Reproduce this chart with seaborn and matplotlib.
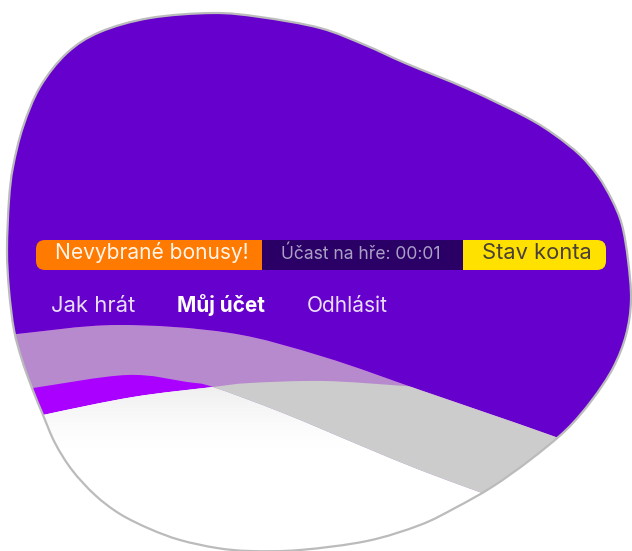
import numpy as np
import matplotlib.pyplot as plt
import seaborn as sns
from matplotlib.path import Path
from matplotlib.patches import PathPatch, FancyBboxPatch, Rectangle

sns.set_theme(style="white")
plt.rcParams['font.family'] = ['Inter', 'DejaVu Sans']

# blob outline, clockwise from the top (pixel coords, y grows downwards)
blob_x = [213, 260, 320, 365, 405, 468, 526, 555, 580, 598, 612, 622, 628, 631,
          626, 613, 592, 566, 530, 492, 455, 420, 367, 300, 250, 217, 180, 150,
          120, 95, 72, 55, 43, 32, 22, 14, 9, 7, 9, 13, 23, 40, 67, 100, 150]
blob_y = [13, 17, 28, 45, 63, 89, 117, 135, 155, 176, 200, 225, 260, 300,
          335, 368, 400, 430, 460, 487, 508, 525, 541, 550, 551, 548, 540, 529,
          514, 495, 470, 443, 415, 388, 360, 330, 290, 250, 200, 167, 127, 87,
          53, 32, 18]

# upper edge of the pale band
band_top_x = [-20, 17, 117, 230, 324, 420, 487, 553, 660]
band_top_y = [338, 334, 325, 333, 357, 390, 413, 436, 475]
# lower edge of the pale band
band_bot_x = [-20, 33, 127, 187, 213, 283, 364, 420, 482, 560, 660]
band_bot_y = [396, 388, 375, 382, 387, 413, 447, 470, 493, 522, 560]
# upper edge of the white area, seen through the band as grey
white_x = [-20, 43, 133, 213, 250, 324, 405, 460, 660]
white_y = [430, 415, 397, 387, 383, 381, 386, 390, 400]
# upper edge of the opaque white fill (hidden inside the band on the right)
fill_x = [-20, 43, 133, 213, 250, 324, 405, 460, 560, 660]
fill_y = [430, 415, 397, 387, 383, 381, 390, 422, 470, 520]

button_labels = ["Nevybrané bonusy!", "Účast na hře: 00:01", "Stav konta"]
button_left = [36, 262, 463]
button_right = [262, 463, 606]
button_text_x = [55, 281, 482]
button_text_w = [194, 160, 110]
button_colors = ["#ff7a00", "#2b0066", "#ffe100"]
button_text_colors = ["#fff4ea", "#a9a0c6", "#4a4038"]

nav_labels = ["Jak hrát", "Můj účet", "Odhlásit"]
nav_x = [51, 177, 307]
nav_w = [84, 88, 81]
nav_weights = ["normal", "bold", "normal"]
nav_colors = ["#e9ddf7", "#ffffff", "#e9ddf7"]

PURPLE = "#6600cc"
PALE = "#b78acd"
VIOLET = "#aa00ff"
GREY = "#cccccc"
EDGE = "#bbbbbb"


def bezier_verts(xs, ys, closed=False):
    """Catmull-Rom anchors turned into cubic bezier vertices."""
    p = np.column_stack([xs, ys]).astype(float)
    n = len(p)
    if closed:
        pts = np.vstack([p[-1], p, p[0], p[1]])
        segs = n
    else:
        pts = np.vstack([p[0], p, p[-1]])
        segs = n - 1
    verts = [pts[1]]
    for i in range(1, segs + 1):
        p0, p1, p2, p3 = pts[i - 1], pts[i], pts[i + 1], pts[i + 2]
        verts += [p1 + (p2 - p0) / 6, p2 - (p3 - p1) / 6, p2]
    return verts


def curve_codes(verts):
    return [Path.MOVETO] + [Path.CURVE4] * (len(verts) - 1)


def below_path(xs, ys, bottom=620):
    v = bezier_verts(xs, ys)
    codes = curve_codes(v)
    v = v + [(xs[-1], bottom), (xs[0], bottom), v[0]]
    codes = codes + [Path.LINETO, Path.LINETO, Path.CLOSEPOLY]
    return Path(v, codes)


def between_path(x1, y1, x2, y2):
    a = bezier_verts(x1, y1)
    b = bezier_verts(x2[::-1], y2[::-1])
    codes = curve_codes(a) + [Path.LINETO] + [Path.CURVE4] * (len(b) - 1) + [Path.CLOSEPOLY]
    return Path(a + b + [a[0]], codes)


fig = plt.figure(figsize=(6.32, 5.51), dpi=100)
ax = fig.add_axes([0, 0, 1, 1])
ax.set_xlim(0, 632)
ax.set_ylim(551, 0)
ax.axis("off")

blob_v = bezier_verts(blob_x, blob_y, closed=True)
blob_path = Path(blob_v + [blob_v[0]], curve_codes(blob_v) + [Path.CLOSEPOLY])

ax.add_patch(PathPatch(blob_path, fc=PURPLE, ec="none"))
ax.add_patch(PathPatch(below_path(band_top_x, band_top_y), fc=VIOLET, ec="none"))
fill_patch = PathPatch(below_path(fill_x, fill_y), fc="white", ec="none")
ax.add_patch(fill_patch)

# soft shadow under the band on the white area
grad = np.linspace(1, 0, 100).reshape(-1, 1) ** 1.6
shade = ax.imshow(grad, extent=(0, 632, 455, 378), cmap="Greys", vmin=0, vmax=6,
                  aspect="auto", interpolation="bilinear", zorder=2)
shade.set_clip_path(fill_patch)

band = between_path(band_top_x, band_top_y, band_bot_x, band_bot_y)
ax.add_patch(PathPatch(band, fc=PALE, ec="none", zorder=3))
clip_patch = PathPatch(below_path(white_x, white_y), fc="none", ec="none")
ax.add_patch(clip_patch)
grey_patch = PathPatch(band, fc=GREY, ec="none", zorder=4)
ax.add_patch(grey_patch)
grey_patch.set_clip_path(clip_patch)

# white mask outside the blob, then the outline
area = np.sum(np.array(blob_x) * np.roll(blob_y, -1) - np.roll(blob_x, -1) * np.array(blob_y))
rect = [(-10, -10), (642, -10), (642, 561), (-10, 561)]
if area > 0:
    rect = rect[::-1]
bv = [tuple(v) for v in blob_v]
mask = Path(rect + [rect[0]] + bv + [bv[0]],
            [Path.MOVETO] + [Path.LINETO] * 3 + [Path.CLOSEPOLY]
            + curve_codes(blob_v) + [Path.CLOSEPOLY])
ax.add_patch(PathPatch(mask, fc="white", ec="none", zorder=5))
ax.add_patch(PathPatch(blob_path, fc="none", ec=EDGE, lw=1.6, zorder=6))

# status bar
ax.add_patch(FancyBboxPatch((button_left[0], 240), button_right[0] - button_left[0] + 20, 30,
                            boxstyle="round,pad=0,rounding_size=9", fc=button_colors[0],
                            ec="none", zorder=7))
ax.add_patch(FancyBboxPatch((button_left[2] - 20, 240), button_right[2] - button_left[2] + 20, 30,
                            boxstyle="round,pad=0,rounding_size=9", fc=button_colors[2],
                            ec="none", zorder=7))
ax.add_patch(Rectangle((button_left[1], 240), button_right[1] - button_left[1], 30,
                       fc=button_colors[1], ec="none", zorder=8))

fig.canvas.draw()
renderer = fig.canvas.get_renderer()


def fit_text(x, y, s, width, **kw):
    t = ax.text(x, y, s, va="baseline", ha="left", zorder=9, **kw)
    fs = t.get_fontsize()
    w = t.get_window_extent(renderer).width
    t.set_fontsize(fs * width / w)
    return t


for lbl, tx, tw, tc in zip(button_labels, button_text_x, button_text_w, button_text_colors):
    fit_text(tx, 259, lbl, tw, color=tc, fontsize=14)

for lbl, tx, tw, wt, tc in zip(nav_labels, nav_x, nav_w, nav_weights, nav_colors):
    fit_text(tx, 312, lbl, tw, color=tc, fontsize=13, fontweight=wt)

fig.savefig("out.png", dpi=100)
